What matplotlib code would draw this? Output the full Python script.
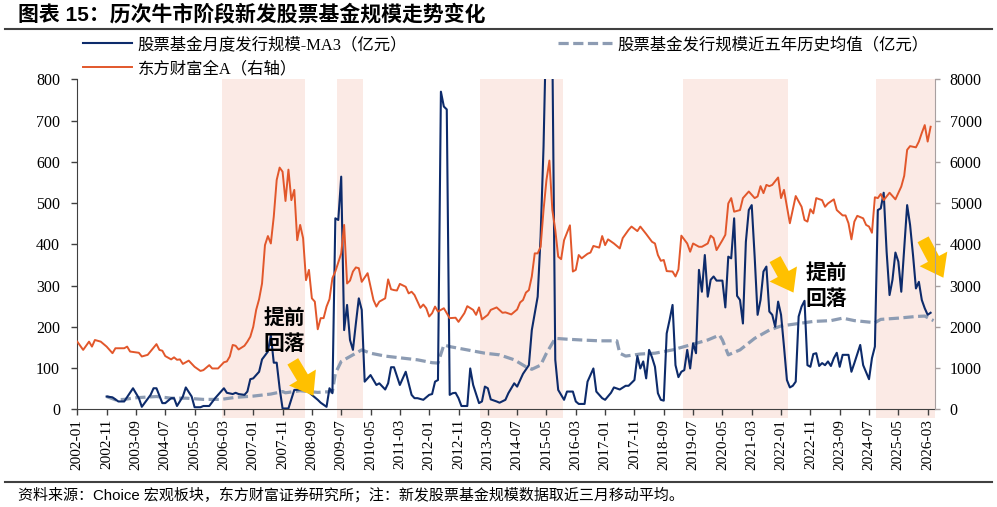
import matplotlib
matplotlib.use('Agg')
import matplotlib.pyplot as plt

# x values are months counted from 2002-01 (0 = 2002-01)
orange_m = [0, 2, 4, 5, 6, 8, 10, 12, 13, 16, 17, 18, 21, 22, 24, 27, 28, 29, 30, 32, 33, 34, 35, 36, 38, 40,
            42, 43, 45, 46, 48, 50, 51, 52, 53, 54, 55, 57, 58, 59, 60, 61, 62, 63, 64, 65, 66, 67, 68, 69, 70,
            71, 72, 73, 74, 75, 76, 77, 78, 79, 80, 81, 82, 83, 84, 85, 86, 87, 88, 90, 91, 92, 93, 94, 95, 96,
            97, 99, 100, 101, 102, 103, 105, 106, 107, 108, 109, 110, 112, 113, 114, 115, 117, 118, 119, 120,
            121, 122, 123, 125, 127, 129, 130, 132, 133, 135, 136, 137, 138, 140, 141, 143, 145, 146, 148, 150,
            151, 152, 153, 154, 155, 156, 157, 158, 159, 160, 161, 162, 163, 164, 165, 166, 167, 168, 169, 170,
            171, 172, 174, 175, 176, 178, 179, 180, 181, 183, 185, 186, 188, 189, 191, 192, 194, 196, 197, 198,
            199, 200, 201, 203, 204, 205, 206, 208, 209, 210, 212, 213, 215, 216, 217, 218, 220, 221, 222, 223,
            224, 226, 227, 228, 229, 231, 232, 233, 234, 235, 236, 237, 239, 240, 241, 243, 245, 247, 248, 249,
            250, 251, 252, 254, 255, 256, 258, 259, 261, 262, 263, 264, 265, 266, 268, 269, 270, 271, 272, 273,
            274, 275, 277, 279, 281, 282, 283, 284, 286, 287, 288, 289, 290, 291]
orange_v = [1640, 1440, 1640, 1520, 1680, 1640, 1520, 1360, 1480, 1480, 1520, 1400, 1370, 1280, 1320, 1580,
            1440, 1420, 1290, 1210, 1260, 1200, 1210, 1100, 1180, 1030, 930, 950, 1070, 990, 990, 1140, 1160,
            1280, 1560, 1540, 1450, 1540, 1640, 1760, 2000, 2410, 2670, 3050, 3980, 4200, 4020, 4670, 5560,
            5860, 5760, 5050, 5810, 5070, 5320, 4100, 4470, 4150, 3130, 3380, 2690, 2610, 1940, 2210, 2210,
            2490, 2670, 3180, 3340, 3780, 4470, 3050, 3120, 3340, 3440, 3420, 3090, 3300, 2970, 2650, 2490,
            2610, 2690, 3150, 2910, 2890, 2880, 3040, 2970, 2810, 2850, 2770, 2460, 2540, 2450, 2250, 2330,
            2490, 2370, 2450, 2210, 2220, 2120, 2330, 2500, 2410, 2290, 2470, 2180, 2290, 2410, 2470, 2340,
            2350, 2300, 2420, 2590, 2650, 2830, 2890, 3220, 3780, 3780, 3940, 4830, 5560, 6030, 4830, 4350,
            3700, 3640, 4100, 4280, 4460, 3340, 3380, 3740, 3660, 3770, 3800, 3960, 3920, 4200, 3980, 4120,
            4020, 3900, 4150, 4350, 4430, 4320, 4430, 4250, 4060, 4020, 3740, 3600, 3620, 3350, 3340, 3220,
            3390, 4210, 4020, 3820, 4020, 3940, 3940, 4020, 4210, 4150, 3860, 4100, 4230, 4990, 5120, 4790,
            4830, 5120, 5200, 5280, 5120, 5160, 5410, 5240, 5440, 5410, 5440, 5620, 5120, 5320, 4510, 5170,
            4910, 4590, 4550, 4850, 4750, 5120, 5070, 4910, 4990, 5090, 4830, 4700, 4700, 4510, 4120, 4550,
            4690, 4630, 4470, 4430, 4280, 5140, 5120, 5220, 5070, 5250, 5090, 5400, 5660, 6290, 6380, 6350,
            6490, 6700, 6890, 6490, 6850]

blue_m = [10, 12, 14, 16, 19, 21, 22, 25, 26, 27, 29, 30, 32, 33, 34, 36, 37, 39, 40, 42, 43, 45, 47, 50, 51,
          53, 54, 55, 57, 58, 59, 60, 62, 63, 65, 66, 67, 68, 69, 70, 72, 74, 76, 78, 80, 82, 83, 85, 86, 87,
          88, 89, 90, 91, 92, 93, 94, 95, 96, 97, 98, 100, 102, 103, 105, 106, 107, 108, 110, 112, 114, 115,
          116, 118, 120, 121, 122, 123, 124, 125, 126, 127, 128, 129, 130, 131, 133, 134, 135, 137, 138, 139,
          140, 141, 143, 144, 146, 147, 149, 150, 152, 154, 155, 157, 158, 159, 160, 161, 162, 163, 164, 166,
          167, 169, 170, 171, 173, 174, 176, 177, 178, 179, 180, 182, 183, 185, 187, 188, 190, 191, 192, 193,
          194, 195, 196, 197, 198, 199, 200, 201, 202, 203, 204, 205, 206, 207, 208, 209, 210, 211, 212, 213,
          214, 215, 216, 217, 218, 220, 221, 222, 223, 224, 225, 226, 227, 228, 229, 230, 231, 232, 233, 234,
          235, 236, 237, 238, 239, 240, 241, 242, 243, 244, 245, 246, 247, 248, 249, 250, 251, 252, 253, 254,
          255, 256, 257, 258, 259, 260, 261, 263, 264, 265, 267, 268, 270, 271, 272, 273, 274, 275, 276, 277,
          278, 279, 280, 281, 283, 284, 285, 286, 287, 288, 289, 290, 291]
blue_v = [31, 29, 19, 19, 51, 27, 6, 35, 51, 51, 15, 15, 27, 27, 8, 31, 53, 31, 5, 5, 8, 8, 27, 51, 40,
          37, 40, 37, 35, 43, 73, 75, 91, 121, 140, 180, 113, 113, 51, 2, 2, 47, 48, 47, 35, 23, 16, 6, 51, 39,
          463, 459, 564, 192, 253, 168, 144, 208, 269, 241, 67, 83, 59, 63, 48, 63, 102, 102, 59, 91, 35, 27,
          27, 23, 35, 37, 67, 71, 770, 734, 727, 35, 39, 40, 27, 8, 8, 99, 59, 15, 19, 55,
          51, 24, 19, 16, 23, 39, 63, 55, 86, 107, 192, 273, 419, 637, 960, 1000, 880, 120, 47, 23,
          43, 43, 19, 13, 13, 67, 99, 43, 35, 27, 23, 40, 53, 48, 57, 57, 71, 129, 99, 116,
          75, 144, 126, 103, 39, 23, 21, 184, 217, 253, 107, 78, 91, 95, 144, 99, 160, 136, 338, 285,
          374, 273, 314, 322, 312, 312, 247, 370, 366, 463, 275, 265, 208, 406, 483, 495, 370, 229, 265, 334,
          346, 237, 229, 200, 261, 229, 152, 71, 53, 57, 67, 225, 249, 263, 107, 103, 134, 136, 105, 112,
          107, 116, 105, 124, 137, 103, 132, 132, 91, 112, 156, 107, 73, 124, 152, 483, 487, 525, 382, 277,
          314, 380, 358, 285, 495, 447, 374, 293, 309, 265, 245, 229, 234]

avg_m = [10, 13, 16, 20, 27, 32, 37, 43, 49, 54, 60, 66, 70, 71, 76, 82, 87, 88, 90, 94, 97, 100, 105, 111,
         116, 121, 123, 125, 127, 133, 139, 144, 149, 153, 155, 158, 160, 163, 167, 172, 178, 184, 185, 187,
         192, 197, 203, 209, 215, 219, 220, 222, 226, 231, 236, 240, 246, 251, 257, 261, 265, 272, 274, 280,
         286, 289, 292]
avg_v = [31, 23, 24, 28, 31, 27, 27, 24, 24, 29, 32, 37, 43, 40, 45, 41, 43, 87, 116, 132, 144, 136, 129, 124,
         120, 113, 112, 156, 152, 144, 136, 132, 120, 103, 97, 107, 136, 172, 170, 168, 166, 166, 136, 129,
         134, 136, 144, 156, 168, 180, 168, 132, 144, 172, 192, 202, 208, 213, 215, 221, 215, 210, 218, 221,
         225, 226, 215]

bull_start = ['2006-03', '2009-06', '2013-07', '2019-04', '2024-10']
bull_end = ['2008-06', '2010-02', '2015-10', '2022-03', '2026-05']


def to_m(s):
    y, mo = map(int, s.split('-'))
    return (y - 2002) * 12 + mo - 1


def month_label(m):
    return f"{2002 + m // 12}-{m % 12 + 1:02d}"


SERIF = ['Liberation Serif', 'Noto Sans CJK SC']
SANS = ['Liberation Sans', 'Noto Sans CJK SC']

fig = plt.figure(figsize=(9.97, 5.07), dpi=100)
ax = fig.add_axes([77.3 / 997, 97.7 / 507, 857.7 / 997, 330 / 507])
ax2 = ax.twinx()

# bull market shading, slightly below the axis like the original
for s, e in zip(bull_start, bull_end):
    ax.axvspan(to_m(s) - 0.5, to_m(e) + 0.5, ymin=-0.027, ymax=1.0, color='#FBEAE5', lw=0, clip_on=False, zorder=0)

l_blue, = ax.plot(blue_m, blue_v, color='#0D2B6B', lw=1.5, zorder=3)
l_avg, = ax.plot(avg_m, avg_v, color='#8D9CB3', lw=2.3, dashes=(3.2, 1.4), zorder=2)
l_or, = ax2.plot(orange_m, orange_v, color='#E2572B', lw=1.4)

ax.set_xlim(0, 292.5)
ax.set_ylim(0, 800)
ax2.set_ylim(0, 8000)
ax.set_yticks(range(0, 801, 100))
ax2.set_yticks(range(0, 8001, 1000))
xt = list(range(0, 291, 10))
ax.set_xticks(xt)
ax.set_xticklabels([month_label(m) for m in xt], rotation=90, family=SERIF, fontsize=11)
for lab in ax.get_yticklabels() + ax2.get_yticklabels():
    lab.set_family(SERIF)
    lab.set_fontsize(11.5)

ax.tick_params(axis='x', direction='out', length=4, width=1, color='#404040', pad=3)
ax.tick_params(axis='y', direction='out', length=4, width=1, color='#404040', pad=8.5)
ax2.tick_params(axis='y', direction='out', length=3.5, width=1, color='#A8A0A0', pad=7)
for a in (ax, ax2):
    a.spines['top'].set_visible(False)
ax2.spines['left'].set_visible(False)
ax2.spines['bottom'].set_visible(False)
ax.spines['right'].set_visible(False)
ax.spines['left'].set_color('#404040')
ax.spines['bottom'].set_color('#404040')
ax2.spines['right'].set_color('#A8A0A0')

# arrows and notes
arrow = dict(arrowstyle='simple,head_width=1.25,head_length=0.85,tail_width=0.5', color='#FFC000', lw=0,
             mutation_scale=18)
ax.annotate('', xy=(81, 27), xytext=(73, 122), arrowprops=arrow, annotation_clip=False, zorder=5)
ax.annotate('', xy=(244.7, 277), xytext=(237.5, 370), arrowprops=arrow, annotation_clip=False, zorder=5)
ax.annotate('', xy=(295.8, 313), xytext=(288, 418), arrowprops=arrow, annotation_clip=False, zorder=5)
ax.text(70.6, 191, '提前\n回落', ha='center', va='center', fontsize=15, family='Noto Sans CJK SC',
        fontweight='bold', linespacing=1.3, zorder=6)
ax.text(255.6, 300, '提前\n回落', ha='center', va='center', fontsize=15, family='Noto Sans CJK SC',
        fontweight='bold', linespacing=1.3, zorder=6)

# legends
fig.legend(handles=[l_blue, l_or], labels=['股票基金月度发行规模-MA3（亿元）', '东方财富全A（右轴）'],
           loc='upper left', bbox_to_anchor=(83 / 997, 1 - 37 / 507), frameon=False, borderpad=0,
           borderaxespad=0, handlelength=3.0, handletextpad=0.35, labelspacing=0.5,
           prop={'family': SERIF, 'size': 11.8})
fig.legend(handles=[l_avg], labels=['股票基金发行规模近五年历史均值（亿元）'],
           loc='upper left', bbox_to_anchor=(558 / 997, 1 - 37 / 507), frameon=False, borderpad=0,
           borderaxespad=0, handlelength=3.3, handletextpad=0.35, prop={'family': SERIF, 'size': 11.8})

# title, rules and source note
fig.text(18 / 997, 1 - 14 / 507, '图表 15：历次牛市阶段新发股票基金规模走势变化', ha='left', va='center',
         fontsize=15, fontweight='bold', family=SANS)
fig.add_artist(plt.Line2D([5 / 997, 992 / 997], [1 - 29 / 507] * 2, color='#404040', lw=1.5))
fig.add_artist(plt.Line2D([5 / 997, 992 / 997], [1 - 482 / 507] * 2, color='#404040', lw=1.5))
fig.text(18 / 997, 12 / 507, '资料来源：Choice 宏观板块，东方财富证券研究所；注：新发股票基金规模数据取近三月移动平均。',
         ha='left', va='center', fontsize=10.8, family=SANS)

fig.savefig('out.png', dpi=100)
